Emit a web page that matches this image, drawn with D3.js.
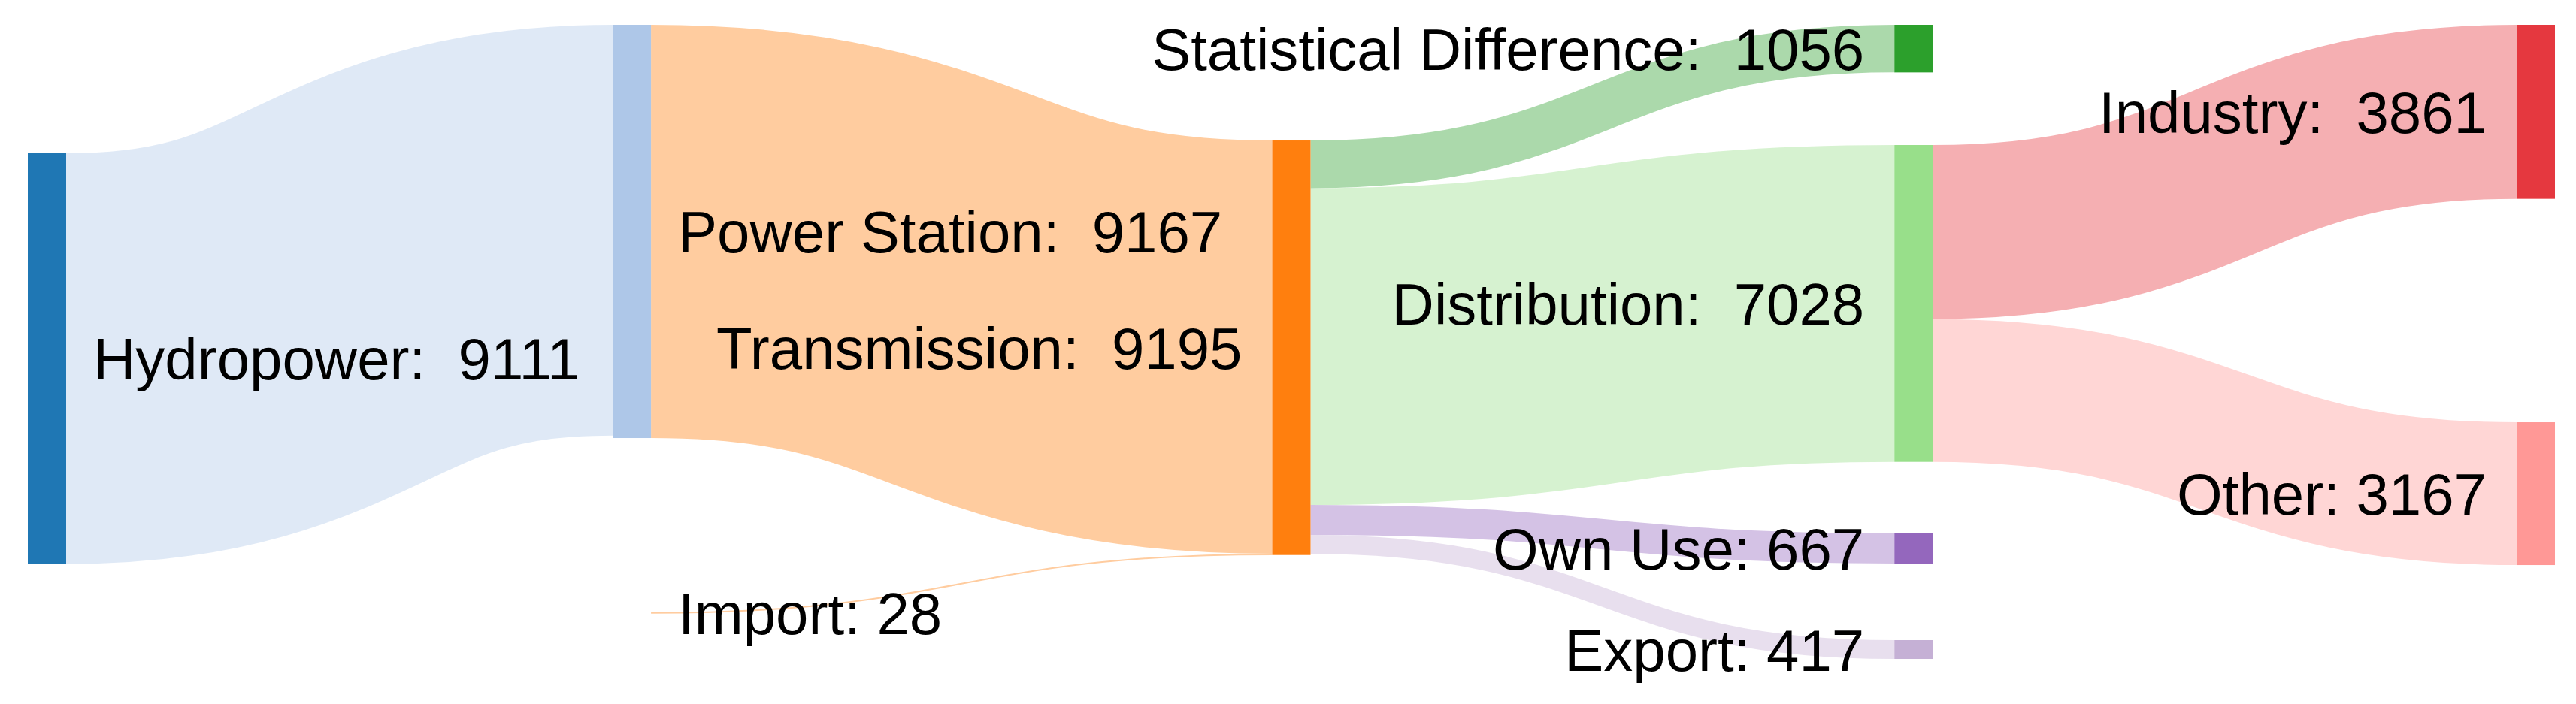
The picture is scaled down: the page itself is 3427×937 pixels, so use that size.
<!DOCTYPE html>
<html>
<head>
<meta charset="utf-8">
<script src="https://cdn.jsdelivr.net/npm/d3@7"></script>
<style>
  body { margin: 0; background: #fff; }
  text { font-family: "Liberation Sans", Arial, sans-serif; white-space: pre; }
</style>
</head>
<body>
<svg id="chart"></svg>
<script>
// node data
var names   = ["Hydropower", "Power Station", "Import", "Transmission", "Statistical Difference", "Distribution", "Own Use", "Export", "Industry", "Other"];
var labels  = ["Hydropower:  9111", "Power Station:  9167", "Import: 28", "Transmission:  9195", "Statistical Difference:  1056", "Distribution:  7028", "Own Use: 667", "Export: 417", "Industry:  3861", "Other: 3167"];
var values  = [9111, 9167, 28, 9195, 1056, 7028, 667, 417, 3861, 3167];
var columns = [0, 0.94, 0.94, 2, 3, 3, 3, 3, 4, 4];
var starts  = [2850, 0, 13030, 2567, 0, 2667, 11283, 13650, 0, 8817];   // top of node, in value units
var colors  = ["#1f77b4", "#aec7e8", "#ffbb78", "#ff7f0e", "#2ca02c", "#98df8a", "#9467bd", "#c5b0d5", "#e5383f", "#ff9896"];

// links
var linkSource = [0, 1, 2, 3, 3, 3, 3, 5, 5];
var linkTarget = [1, 3, 3, 4, 5, 6, 7, 8, 9];
var linkValue  = [9111, 9167, 28, 1056, 7028, 667, 417, 3861, 3167];

var W = 3427, H = 937, nodeW = 51;
var svg = d3.select("#chart").attr("width", W).attr("height", H);

var x = d3.scaleLinear().domain([0, 4]).range([37, 3348]);
var y = d3.scaleLinear().domain([0, 14100]).range([33, 33 + 14100 * 0.06]);
var k = y(1) - y(0);

var nodes = names.map(function(n, i){
  return {name: n, label: labels[i], value: values[i], x0: x(columns[i]), x1: x(columns[i]) + nodeW,
          y0: y(starts[i]), y1: y(starts[i] + values[i]), color: colors[i], outOff: 0, inOff: 0};
});
var links = linkValue.map(function(v, i){
  var s = nodes[linkSource[i]], t = nodes[linkTarget[i]];
  var w = v * k;
  var l = {s: s, t: t, w: w, sy: s.y0 + s.outOff + w / 2, ty: t.y0 + t.inOff + w / 2};
  s.outOff += w; t.inOff += w;
  return l;
});

svg.append("g").selectAll("path").data(links).join("path")
  .attr("d", function(d){
    var x0 = d.s.x1, x1 = d.t.x0, xm = (x0 + x1) / 2;
    return "M" + x0 + "," + d.sy + "C" + xm + "," + d.sy + " " + xm + "," + d.ty + " " + x1 + "," + d.ty;
  })
  .attr("fill", "none")
  .attr("stroke", function(d){ return d.t.color; })
  .attr("stroke-opacity", 0.4)
  .attr("stroke-width", function(d){ return Math.max(2, d.w); });

svg.append("g").selectAll("rect").data(nodes.filter(function(d){ return d.name != "Import"; })).join("rect")
  .attr("x", function(d){ return d.x0; })
  .attr("y", function(d){ return d.y0; })
  .attr("width", nodeW)
  .attr("height", function(d){ return d.y1 - d.y0; })
  .attr("fill", function(d){ return d.color; });

svg.append("g").selectAll("text").data(nodes).join("text")
  .attr("x", function(d){ return d.x0 < W / 2 && d.name != "Transmission" ? d.x1 + 36 : d.x0 - 40; })
  .attr("y", function(d){ return (d.y0 + d.y1) / 2; })
  .attr("dy", "0.36em")
  .attr("text-anchor", function(d){ return d.x0 < W / 2 && d.name != "Transmission" ? "start" : "end"; })
  .attr("font-size", 78)
  .attr("fill", "#000")
  .text(function(d){ return d.label; });
</script>
</body>
</html>
